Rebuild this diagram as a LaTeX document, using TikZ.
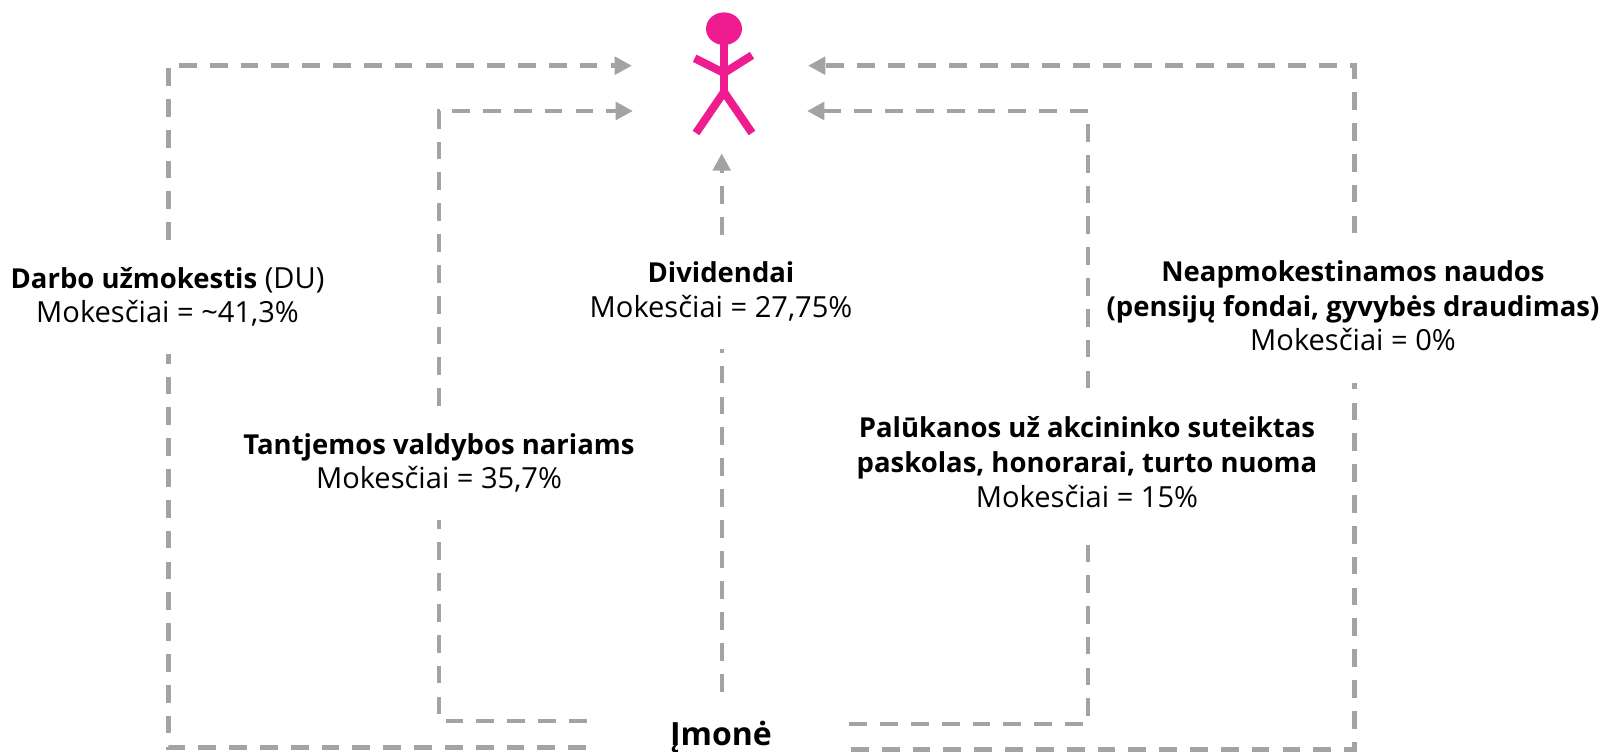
\documentclass[tikz,border=0pt]{standalone}
\usepackage{fontspec}
\setmainfont{Open Sans}
\usetikzlibrary{arrows.meta}
\definecolor{conn}{HTML}{A3A3A3}
\definecolor{pinkfig}{HTML}{EE1C8E}
\newcommand{\hd}[1]{{\fontsize{20.6pt}{26pt}\selectfont\bfseries #1}}
\tikzset{
  x=0.75pt,y=-0.75pt,
  connline/.style={draw=conn,line width=3.3pt,dash pattern=on 13.3pt off 9.82pt},
  connarrow/.style={connline,-{Triangle[length=13pt,width=13pt,fill=conn]}},
  lbl/.style={align=center,inner sep=0pt,font=\fontsize{21.8pt}{26pt}\selectfont,text=black},
  limb/.style={draw=pinkfig,line width=6pt},
}
\begin{document}
\begin{tikzpicture}
\useasboundingbox (0,0) rectangle (1602,752);
% figure
\fill[pinkfig] (724,28.7) ellipse (18 and 16.3);
\draw[limb] (724,30) -- (724,93);
\draw[limb] (694.7,58.3) -- (724,73) -- (752,55.3);
\draw[limb] (696,133) -- (724,92) -- (752,133);
% labels
\node[lbl] (du) at (167.5,297) {\hd{Darbo užmokestis} (DU)\\Mokesčiai = \textasciitilde41,3\%};
\node[lbl] (tant) at (439,463) {\hd{Tantjemos valdybos nariams}\\Mokesčiai = 35,7\%};
\node[lbl] (div) at (721,291.5) {\hd{Dividendai}\\Mokesčiai = 27,75\%};
\node[lbl] (pal) at (1087,462) {\hd{Palūkanos už akcininko suteiktas}\\\hd{paskolas, honorarai, turto nuoma}\\Mokesčiai = 15\%};
\node[lbl] (nea) at (1353,306) {\hd{Neapmokestinamos naudos}\\\hd{(pensijų fondai, gyvybės draudimas)}\\Mokesčiai = 0\%};
\node[lbl,font=\fontsize{24pt}{26pt}\selectfont\bfseries] (imone) at (721,737.5) {Įmonė};
% connector ends around the figure
\coordinate (pl1) at (632,65.7);
\coordinate (pl2) at (633,111);
\coordinate (pr1) at (808,65.7);
\coordinate (pr2) at (807,111);
\coordinate (pb) at (721.7,153.3);
% connector ends around Imone
\coordinate (sOL) at (586,747.3);
\coordinate (sIL) at (586.7,720.7);
\coordinate (sC) at (721.7,691.7);
\coordinate (sIR) at (849.3,724);
\coordinate (sOR) at (851,749.3);
% connector ends around the labels
\coordinate (duB) at (168.3,354.3);
\coordinate (duT) at (168.3,240);
\coordinate (tantB) at (439,520);
\coordinate (tantT) at (439,406);
\coordinate (divB) at (721.7,349.3);
\coordinate (divT) at (721.7,234.7);
\coordinate (palB) at (1088,545);
\coordinate (palT) at (1088,388.3);
\coordinate (neaB) at (1354.3,382.7);
\coordinate (neaT) at (1354.3,233.3);
% outer left
\draw[connline] (sOL) -| (duB);
\draw[connarrow] (duT) |- (pl1);
% inner left
\draw[connline] (sIL) -| (tantB);
\draw[connarrow] (tantT) |- (pl2);
% centre
\draw[connline] (sC) -- (divB);
\draw[connarrow] (divT) -- (pb);
% inner right
\draw[connline] (sIR) -| (palB);
\draw[connarrow] (palT) |- (pr2);
% outer right
\draw[connline] (sOR) -| (neaB);
\draw[connarrow] (neaT) |- (pr1);
\end{tikzpicture}
\end{document}
